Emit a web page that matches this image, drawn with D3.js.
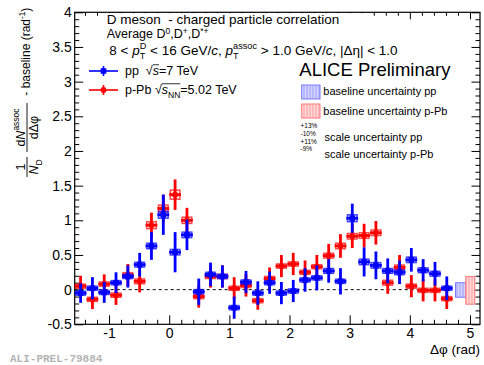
<!DOCTYPE html>
<html lang="en">
<head>
<meta charset="utf-8">
<title>D meson - charged particle correlation</title>
<script src="https://d3js.org/d3.v7.min.js"></script>
<style>
  body { margin: 0; background: #fff; }
  svg { font-family: "Liberation Sans", Arial, sans-serif; }
  text { white-space: pre; }
  .axis text { font-size: 14px; fill: #000; }
  .axis line { stroke: #000; stroke-width: 1; }
</style>
</head>
<body>
<svg id="chart" width="484" height="365"></svg>
<script>
// bin centres (rad) of the delta-phi histogram
const dphi = [-1.473, -1.276, -1.080, -0.884, -0.687, -0.491, -0.295, -0.098,
              0.098, 0.295, 0.491, 0.687, 0.884, 1.080, 1.276, 1.473,
              1.669, 1.865, 2.062, 2.258, 2.454, 2.651, 2.847, 3.043,
              3.240, 3.436, 3.632, 3.829, 4.025, 4.221, 4.418, 4.614];

// pp, sqrt(s)=7 TeV
const ppVal = [-0.05, 0.02, -0.04, 0.10, 0.19, 0.36, 0.63, 1.08,
               0.54, 0.79, -0.03, 0.22, 0.19, -0.26, 0.11, -0.05,
               0.10, -0.05, -0.02, 0.14, 0.17, 0.27, 0.12, 1.03,
               0.40, 0.35, 0.27, 0.25, 0.43, 0.28, 0.23, 0.02];
const ppStat = [0.14, 0.16, 0.15, 0.15, 0.16, 0.17, 0.20, 0.29,
                0.29, 0.22, 0.19, 0.17, 0.16, 0.16, 0.16, 0.17,
                0.16, 0.16, 0.16, 0.17, 0.18, 0.17, 0.19, 0.21,
                0.21, 0.20, 0.18, 0.17, 0.17, 0.16, 0.17, 0.17];
const ppSys = [0.03, 0.03, 0.03, 0.03, 0.03, 0.035, 0.04, 0.05,
               0.04, 0.04, 0.03, 0.03, 0.03, 0.03, 0.03, 0.03,
               0.03, 0.03, 0.03, 0.03, 0.03, 0.035, 0.03, 0.05,
               0.04, 0.04, 0.035, 0.035, 0.04, 0.035, 0.035, 0.03];

// p-Pb, sqrt(sNN)=5.02 TeV
const pPbVal = [0.05, -0.14, 0.08, -0.08, 0.21, 0.12, 0.93, 1.17,
                1.37, 1.00, -0.10, 0.19, 0.19, 0.02, 0.06, -0.16,
                0.16, 0.34, 0.37, 0.25, 0.33, 0.49, 0.63, 0.77,
                0.78, 0.82, 0.10, 0.32, 0.05, -0.01, -0.01, -0.13];
const pPbStat = [0.15, 0.14, 0.14, 0.14, 0.16, 0.16, 0.18, 0.20,
                 0.22, 0.18, 0.16, 0.16, 0.16, 0.16, 0.16, 0.13,
                 0.16, 0.16, 0.16, 0.17, 0.17, 0.17, 0.17, 0.17,
                 0.17, 0.17, 0.16, 0.18, 0.16, 0.16, 0.16, 0.15];
const pPbSys = [0.03, 0.03, 0.03, 0.03, 0.035, 0.035, 0.05, 0.05,
                0.065, 0.045, 0.03, 0.03, 0.03, 0.03, 0.03, 0.03,
                0.03, 0.03, 0.03, 0.03, 0.03, 0.035, 0.04, 0.04,
                0.04, 0.04, 0.035, 0.035, 0.03, 0.03, 0.03, 0.03];

// baseline uncertainty bands drawn at the right edge [x0, x1, low, high]
const baselineUnc = [
  {name: "pp", x0: 4.76, x1: 4.93, lo: -0.11, hi: 0.10},
  {name: "pPb", x0: 4.93, x1: 5.08, lo: -0.21, hi: 0.19}
];

const xTicks = [-1, 0, 1, 2, 3, 4, 5];
const yTicks = [-0.5, 0, 0.5, 1, 1.5, 2, 2.5, 3, 3.5, 4];

const svg = d3.select("#chart");
const frame = {left: 74.7, right: 480, top: 12.3, bottom: 324.3};

const x = d3.scaleLinear().domain([-Math.PI / 2, 5.166]).range([frame.left, frame.right]);
const y = d3.scaleLinear().domain([-0.5, 4]).range([frame.bottom, frame.top]);

const xMinor = d3.range(-1.4, 5.1, 0.2).map(v => +v.toFixed(1)).filter(v => !Number.isInteger(v));
const yMinor = d3.range(-0.4, 4, 0.1).map(v => +v.toFixed(1)).filter(v => Math.abs(v * 2 - Math.round(v * 2)) > 1e-6);

// hatch patterns for the baseline uncertainty boxes
const defs = svg.append("defs");
function hatch(id, bg, line) {
  const p = defs.append("pattern").attr("id", id).attr("patternUnits", "userSpaceOnUse")
    .attr("width", 3).attr("height", 6);
  p.append("rect").attr("width", 3).attr("height", 6).attr("fill", bg);
  p.append("line").attr("x1", 1).attr("x2", 1).attr("y1", 0).attr("y2", 6)
    .attr("stroke", line).attr("stroke-width", 0.8);
}
hatch("hatchBlue", "#d4d4ff", "#8f8fff");
hatch("hatchRed", "#ffd8d8", "#ff8f8f");

// axes (ROOT style, ticks inward on all sides)
function axis(gen, tx, ty, vals, size, labels, pad) {
  const g = svg.append("g").attr("class", "axis").attr("transform", `translate(${tx},${ty})`)
    .call(gen.tickValues(vals).tickSize(-size).tickSizeOuter(0).tickPadding(pad || 3)
      .tickFormat(labels ? d => String(d) : ""));
  g.select(".domain").remove();
  return g;
}
axis(d3.axisLeft(y), frame.left, 0, yTicks, 8.5, true, 3);
axis(d3.axisLeft(y), frame.left, 0, yMinor, 4.5, false);
axis(d3.axisRight(y), frame.right, 0, yTicks, 8.5, false);
axis(d3.axisRight(y), frame.right, 0, yMinor, 4.5, false);
axis(d3.axisBottom(x), 0, frame.bottom, xTicks, 9, true, 4);
axis(d3.axisBottom(x), 0, frame.bottom, xMinor, 4.5, false);
axis(d3.axisTop(x), 0, frame.top, xTicks, 7, false);
axis(d3.axisTop(x), 0, frame.top, xMinor, 3.5, false);

// white pave behind the header covers the top ticks there
svg.append("rect").attr("x", 102).attr("y", 13.2).attr("width", 270).attr("height", 14).attr("fill", "#fff");

svg.append("rect").attr("x", frame.left).attr("y", frame.top)
  .attr("width", frame.right - frame.left).attr("height", frame.bottom - frame.top)
  .attr("fill", "none").attr("stroke", "#000").attr("stroke-width", 1.2);

// zero line
svg.append("line").attr("x1", x(-Math.PI / 2)).attr("x2", x(3 * Math.PI / 2))
  .attr("y1", y(0)).attr("y2", y(0))
  .attr("stroke", "#000").attr("stroke-width", 1).attr("stroke-dasharray", "3,3");

// baseline uncertainty boxes
baselineUnc.forEach(b => {
  const blue = b.name === "pp";
  svg.append("rect").attr("x", x(b.x0)).attr("y", y(b.hi))
    .attr("width", x(b.x1) - x(b.x0)).attr("height", y(b.lo) - y(b.hi))
    .attr("fill", blue ? "url(#hatchBlue)" : "url(#hatchRed)")
    .attr("stroke", blue ? "#7a7aff" : "#ff7a7a").attr("stroke-width", 1);
});

const halfBin = Math.PI / 32;
function series(vals, stat, sys, color, boxFill, marker) {
  const data = dphi.map((d, i) => ({x: d, v: vals[i], e: stat[i], s: sys[i]}));
  const g = svg.append("g");
  // systematic boxes
  g.selectAll("rect.sys").data(data).join("rect").attr("class", "sys")
    .attr("x", d => x(d.x - 0.08)).attr("width", d => x(d.x + 0.08) - x(d.x - 0.08))
    .attr("y", d => y(d.v + d.s)).attr("height", d => y(d.v - d.s) - y(d.v + d.s))
    .attr("fill", boxFill).attr("stroke", color).attr("stroke-opacity", 0.7).attr("stroke-width", 1.5);
  // statistical error bars
  g.selectAll("line.ey").data(data).join("line").attr("class", "ey")
    .attr("x1", d => x(d.x)).attr("x2", d => x(d.x))
    .attr("y1", d => y(d.v + d.e)).attr("y2", d => y(d.v - d.e))
    .attr("stroke", color).attr("stroke-width", 2.8);
  g.selectAll("line.ex").data(data).join("line").attr("class", "ex")
    .attr("x1", d => x(d.x - halfBin)).attr("x2", d => x(d.x + halfBin))
    .attr("y1", d => y(d.v)).attr("y2", d => y(d.v))
    .attr("stroke", color).attr("stroke-width", 2.8);
  if (marker === "square") {
    g.selectAll("rect.m").data(data).join("rect").attr("class", "m")
      .attr("x", d => x(d.x) - 2.8).attr("y", d => y(d.v) - 2.8)
      .attr("width", 5.6).attr("height", 5.6).attr("fill", color);
  } else {
    g.selectAll("circle.m").data(data).join("circle").attr("class", "m")
      .attr("cx", d => x(d.x)).attr("cy", d => y(d.v)).attr("r", 2.9).attr("fill", color);
  }
}
series(pPbVal, pPbStat, pPbSys, "#ff0000", "rgba(255,0,0,0.08)", "circle");
series(ppVal, ppStat, ppSys, "#0000ff", "rgba(0,0,255,0.12)", "square");

// rich text helper: pieces laid out left to right, sup/sub stacked when asked
function rich(g, x0, y0, parts, base, anchorCenter) {
  const grp = g.append("g");
  let cx = x0, stackX = null, stackW = 0, overX = null;
  parts.forEach(p => {
    const size = base * (p.s || 1);
    const t = grp.append("text").attr("x", cx).attr("y", y0 + (p.dy || 0) * base)
      .attr("font-size", size).attr("fill", p.fill || "#000")
      .style("font-style", p.i ? "italic" : "normal").text(p.t);
    const w = t.node().getComputedTextLength();
    if (p.overStart) overX = cx + w;
    if (p.stack) { stackX = cx; stackW = w; return; }
    if (stackX !== null) { cx = stackX + Math.max(stackW, w); stackX = null; }
    else cx += w;
    if (p.overEnd && overX !== null) {
      grp.append("line").attr("x1", overX).attr("x2", cx)
        .attr("y1", y0 - base * 0.82).attr("y2", y0 - base * 0.82)
        .attr("stroke", "#000").attr("stroke-width", 0.8);
      overX = null;
    }
  });
  if (anchorCenter) grp.attr("transform", `translate(${-(cx - x0) / 2},0)`);
  return cx - x0;
}
const sup = (t, extra) => Object.assign({t, s: 0.68, dy: -0.42}, extra || {});
const sub = (t, extra) => Object.assign({t, s: 0.68, dy: 0.3}, extra || {});

// header
rich(svg, 106.7, 24, [{t: "D meson  - charged particle correlation"}], 13.5);
rich(svg, 106.7, 38, [{t: "Average D"}, sup("0", {dy: -0.36}), {t: ",D"}, sup("+", {dy: -0.36}),
                      {t: ",D"}, sup("*+", {dy: -0.36})], 12.5);
rich(svg, 109.3, 55, [
  {t: "8 < "}, {t: "p", i: true}, sup("D", {stack: true}), sub("T"),
  {t: " < 16 GeV/"}, {t: "c", i: true}, {t: ", "},
  {t: "p", i: true}, sup("assoc", {stack: true}), sub("T"),
  {t: " > 1.0 GeV/"}, {t: "c", i: true}, {t: ", |Δη| < 1.0"}
], 13.5);

// left legend
const legendRows = [
  {y: 71, color: "#0000ff", marker: "square",
   parts: [{t: "pp  "}, {t: "√", overStart: true}, {t: "s", i: true, overEnd: true}, {t: "=7 TeV"}]},
  {y: 90, color: "#ff0000", marker: "circle",
   parts: [{t: "p-Pb "}, {t: "√", overStart: true}, {t: "s", i: true}, sub("NN", {overEnd: true}), {t: "=5.02 TeV"}]}
];
legendRows.forEach(r => {
  svg.append("line").attr("x1", 89).attr("x2", 118).attr("y1", r.y).attr("y2", r.y)
    .attr("stroke", r.color).attr("stroke-width", 1.6);
  svg.append("line").attr("x1", 103.5).attr("x2", 103.5).attr("y1", r.y - 5).attr("y2", r.y + 5)
    .attr("stroke", r.color).attr("stroke-width", 1.6);
  if (r.marker === "square") {
    svg.append("rect").attr("x", 100.7).attr("y", r.y - 2.8).attr("width", 5.6).attr("height", 5.6).attr("fill", r.color);
  } else {
    svg.append("circle").attr("cx", 103.5).attr("cy", r.y).attr("r", 2.9).attr("fill", r.color);
  }
  rich(svg, 125, r.y + 4, r.parts, 12.5);
});

// right legend
rich(svg, 299.3, 76, [{t: "ALICE Preliminary"}], 18.5);
svg.append("rect").attr("x", 301.7).attr("y", 85).attr("width", 18.3).attr("height", 14)
  .attr("fill", "url(#hatchBlue)").attr("stroke", "#7a7aff").attr("stroke-width", 1);
rich(svg, 323.3, 95, [{t: "baseline uncertainty pp"}], 11);
svg.append("rect").attr("x", 301.7).attr("y", 104).attr("width", 18.3).attr("height", 14)
  .attr("fill", "url(#hatchRed)").attr("stroke", "#ff7a7a").attr("stroke-width", 1);
rich(svg, 323.3, 115, [{t: "baseline uncertainty p-Pb"}], 11);
rich(svg, 300.5, 128, [{t: "+13%"}], 6.5);
rich(svg, 300.5, 135.5, [{t: "-10%"}], 6.5);
rich(svg, 324.5, 141, [{t: "scale uncertainty pp"}], 11);
rich(svg, 300.5, 143.5, [{t: "+11%"}], 6.5);
rich(svg, 300.5, 151, [{t: "-9%"}], 6.5);
rich(svg, 324.5, 157.5, [{t: "scale uncertainty p-Pb"}], 11);

// x axis title
svg.append("text").attr("x", 480).attr("y", 353.5).attr("text-anchor", "end")
  .attr("font-size", 13.5).text("Δφ (rad)");

// y axis title, rotated (local x runs up the page)
const yt = svg.append("g").attr("transform", "translate(27,177) rotate(-90)");
function frac(x0, x1, num, den) {
  yt.append("line").attr("x1", x0).attr("x2", x1).attr("y1", 0).attr("y2", 0)
    .attr("stroke", "#000").attr("stroke-width", 0.9);
  rich(yt, (x0 + x1) / 2, -2.5, num, 12.5, true);
  rich(yt, (x0 + x1) / 2, 11, den, 12.5, true);
}
frac(0, 20, [{t: "1"}], [{t: "N", i: true}, sub("D")]);
frac(25, 74, [{t: "d"}, {t: "N", i: true}, sup("assoc")], [{t: "dΔφ"}]);
rich(yt, 78, 3, [{t: " - baseline (rad"}, sup("-1"), {t: ")"}], 12);

// preliminary figure id
svg.append("text").attr("x", 10).attr("y", 362)
  .attr("font-family", "Liberation Mono, monospace").attr("font-weight", "bold")
  .attr("font-size", 11).attr("fill", "#b4b4b4").text("ALI-PREL-79884");
</script>
</body>
</html>
